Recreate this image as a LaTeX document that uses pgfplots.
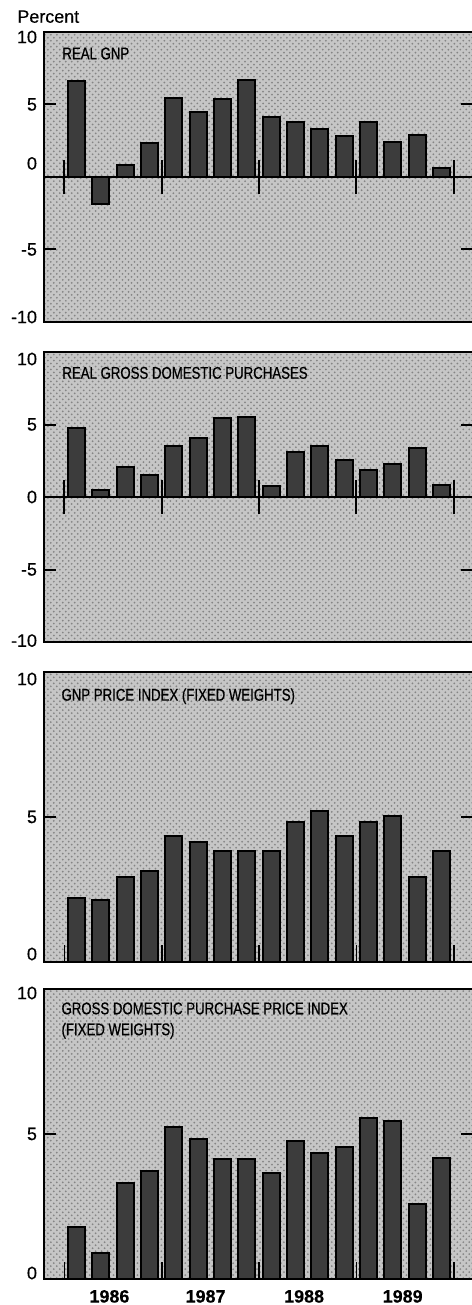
\documentclass[border=0pt]{standalone}
\usepackage{pgfplots}
\pgfplotsset{compat=1.18}
\usetikzlibrary{patterns}
\usepackage{fontspec}
\setmainfont{Liberation Sans}[FakeBold=0.4]
\newfontfamily\ticfont[FakeBold=0.5]{Liberation Sans}
\newfontfamily\narrowfont[FakeStretch=0.78,FakeBold=0.6]{Liberation Sans}

\definecolor{bgc}{HTML}{C6C6C6}
\definecolor{dotc}{HTML}{858585}
\definecolor{barc}{HTML}{3C3C3C}

\newcommand{\sh}[2]{\raisebox{#1}[\height][\depth]{#2}}

\pgfplotsset{
  panel/.style={
    anchor=north west, scale only axis,
    width=214.5bp, height=145bp,
    xmin=-1.34, xmax=16.29,
    axis background/.style={fill=bgc, postaction={pattern=crosshatch dots, pattern color=dotc}},
    axis line style={line width=1bp},
    axis on top,
    tick align=inside,
    major tick length=6bp,
    every tick/.style={black, line width=1bp},
    ytick pos=both, yticklabel pos=left,
    xtick=\empty,
    /pgf/number format/assume math mode=true,
    yticklabel style={font=\ticfont\fontsize{9}{10}\selectfont, xshift=0bp},
    clip=false,
  },
  bars/.style={ybar, bar width=0.7, fill=barc, draw=black, line width=1bp},
}
\tikzset{
  ttl/.style={anchor=north west, inner sep=0, font=\narrowfont\fontsize{8.5}{10.5}\selectfont, align=left},
}

\begin{document}
\begin{tikzpicture}

\node[anchor=north west, inner sep=0, font=\ticfont\fontsize{9}{10}\selectfont] at (8.5bp,-5bp) {Percent};

% Panel 1
\begin{axis}[panel, at={(22bp,-16bp)}, ymin=-10, ymax=10,
  ytick={-10,-5,0,5,10},
  yticklabels={\sh{2.5bp}{-10},-5,\sh{6.8bp}{0},5,\sh{-2.5bp}{10}}]
\addplot[bars] coordinates {(0,6.65) (1,-1.88) (2,0.80) (3,2.36) (4,5.46) (5,4.50) (6,5.37) (7,6.70)
 (8,4.11) (9,3.81) (10,3.28) (11,2.80) (12,3.81) (13,2.39) (14,2.91) (15,0.62)};
\draw[line width=1.3bp] (rel axis cs:0,0.5) -- (rel axis cs:1,0.5);
\draw[line width=1bp] (axis cs:-0.5,-1.2) -- (axis cs:-0.5,1.2);
\draw[line width=1bp] (axis cs:3.5,-1.2) -- (axis cs:3.5,1.2);
\draw[line width=1bp] (axis cs:7.5,-1.2) -- (axis cs:7.5,1.2);
\draw[line width=1bp] (axis cs:11.5,-1.2) -- (axis cs:11.5,1.2);
\draw[line width=1bp] (axis cs:15.5,-1.2) -- (axis cs:15.5,1.2);
\node[ttl] at (rel axis cs:0.042,0.948) {REAL GNP};
\end{axis}

% Panel 2
\begin{axis}[panel, at={(22bp,-176bp)}, ymin=-10, ymax=10,
  ytick={-10,-5,0,5,10},
  yticklabels={\sh{0.7bp}{-10},-5,0,5,\sh{-3.5bp}{10}}]
\addplot[bars] coordinates {(0,4.75) (1,0.50) (2,2.04) (3,1.54) (4,3.49) (5,4.08) (6,5.46) (7,5.55)
 (8,0.73) (9,3.07) (10,3.49) (11,2.55) (12,1.88) (13,2.27) (14,3.35) (15,0.80)};
\draw[line width=1.3bp] (rel axis cs:0,0.5) -- (rel axis cs:1,0.5);
\draw[line width=1bp] (axis cs:-0.5,-1.2) -- (axis cs:-0.5,1.2);
\draw[line width=1bp] (axis cs:3.5,-1.2) -- (axis cs:3.5,1.2);
\draw[line width=1bp] (axis cs:7.5,-1.2) -- (axis cs:7.5,1.2);
\draw[line width=1bp] (axis cs:11.5,-1.2) -- (axis cs:11.5,1.2);
\draw[line width=1bp] (axis cs:15.5,-1.2) -- (axis cs:15.5,1.2);
\node[ttl] at (rel axis cs:0.042,0.95) {REAL GROSS DOMESTIC PURCHASES};
\end{axis}

% Panel 3
\begin{axis}[panel, at={(22bp,-336bp)}, ymin=0, ymax=10,
  ytick={0,5,10},
  yticklabels={\sh{4bp}{0},5,\sh{-3.5bp}{10}}]
\addplot[bars] coordinates {(0,2.22) (1,2.14) (2,2.93) (3,3.14) (4,4.34) (5,4.13) (6,3.82) (7,3.82)
 (8,3.82) (9,4.83) (10,5.20) (11,4.34) (12,4.83) (13,5.03) (14,2.92) (15,3.84)};
\draw[line width=0.8bp] (axis cs:-0.5,0) -- (axis cs:-0.5,0.6);
\draw[line width=0.8bp] (axis cs:3.5,0) -- (axis cs:3.5,0.6);
\draw[line width=0.8bp] (axis cs:7.5,0) -- (axis cs:7.5,0.6);
\draw[line width=0.8bp] (axis cs:11.5,0) -- (axis cs:11.5,0.6);
\draw[line width=0.8bp] (axis cs:15.5,0) -- (axis cs:15.5,0.6);
\node[ttl] at (rel axis cs:0.04,0.945) {GNP PRICE INDEX (FIXED WEIGHTS)};
\end{axis}

% Panel 4
\begin{axis}[panel, at={(22bp,-494.5bp)}, ymin=0, ymax=10,
  ytick={0,5,10},
  yticklabels={\sh{3bp}{0},5,\sh{-2bp}{10}},
  xtick={1.35,5.3,9.35,13.4}, xticklabels={1986,1987,1988,1989},
  xtick pos=bottom,
  xtick style={draw=none},
  xticklabel style={font=\bfseries\fontsize{9}{10}\selectfont, yshift=-2bp}]
\addplot[bars] coordinates {(0,1.80) (1,0.91) (2,3.31) (3,3.72) (4,5.24) (5,4.84) (6,4.14) (7,4.14)
 (8,3.64) (9,4.75) (10,4.34) (11,4.54) (12,5.55) (13,5.46) (14,2.59) (15,4.18)};
\draw[line width=0.8bp] (axis cs:-0.5,0) -- (axis cs:-0.5,0.6);
\draw[line width=0.8bp] (axis cs:3.5,0) -- (axis cs:3.5,0.6);
\draw[line width=0.8bp] (axis cs:7.5,0) -- (axis cs:7.5,0.6);
\draw[line width=0.8bp] (axis cs:11.5,0) -- (axis cs:11.5,0.6);
\draw[line width=0.8bp] (axis cs:15.5,0) -- (axis cs:15.5,0.6);
\node[ttl] at (rel axis cs:0.04,0.955) {GROSS DOMESTIC PURCHASE PRICE INDEX\\(FIXED WEIGHTS)};
\end{axis}

\pgfresetboundingbox
\useasboundingbox (0,0) rectangle (236bp,-652.5bp);
\end{tikzpicture}
\end{document}
